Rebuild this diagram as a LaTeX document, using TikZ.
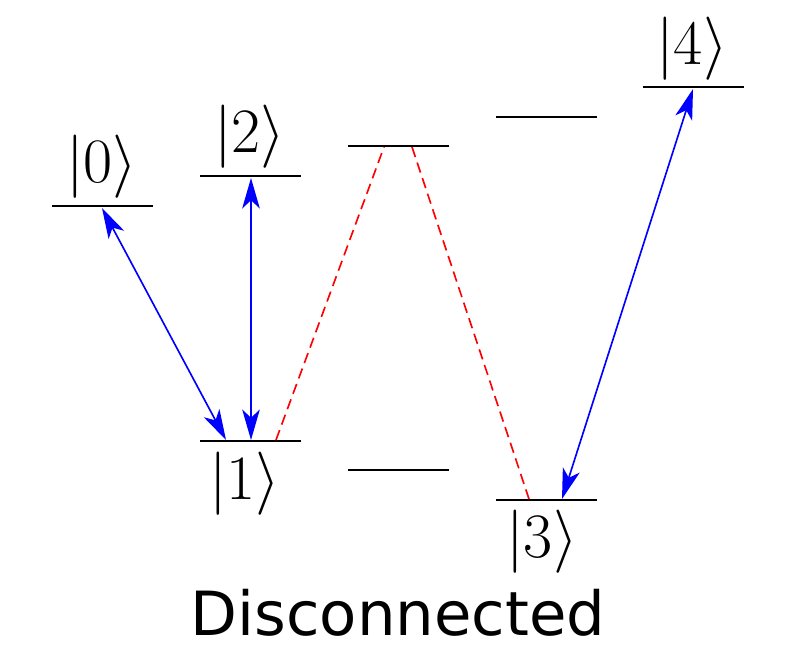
\RequirePackage{fix-cm}
\documentclass[tikz,border=0pt]{standalone}
\usepackage{fontspec}
\newfontfamily\labelfont{DejaVu Sans}
\usepackage{amsmath}
\usetikzlibrary{arrows.meta}
\tikzset{
    level/.style = {line width = 2.2pt},
    coupling/.style = {
        blue, line width = 1.4pt,
        {Stealth[length = 26pt, width = 15pt, inset = 7pt]}-{Stealth[length = 26pt, width = 15pt, inset = 7pt]}
    },
    leak/.style = {red, line width = 1.4pt, dash pattern = on 9pt off 5pt},
    ket/.style = {inner sep = 0pt, font = \fontsize{54}{54}\selectfont}
}
\begin{document}
\begin{tikzpicture}[x = 0.03cm, y = -0.03cm]
    \useasboundingbox (0, 0) rectangle (797, 650);

    % levels
    \draw[level] (52, 206) -- (153, 206);
    \draw[level] (200, 176) -- (301, 176);
    \draw[level] (348, 146) -- (449, 146);
    \draw[level] (496, 117) -- (597, 117);
    \draw[level] (643, 87) -- (744, 87);
    \draw[level] (200, 441) -- (301, 441);
    \draw[level] (348, 470) -- (449, 470);
    \draw[level] (496, 500) -- (597, 500);

    \node[ket] (k0) at (102, 167) {$|0\rangle$};
    \node[ket] (k2) at (250, 137) {$|2\rangle$};
    \node[ket] (k4) at (692, 49) {$|4\rangle$};
    \node[ket] (k1) at (245, 484) {$|1\rangle$};
    \node[ket] (k3) at (542, 542) {$|3\rangle$};

    \coordinate (a0) at (102, 208);
    \coordinate (a1) at (226, 440);
    \coordinate (b2) at (251, 178);
    \coordinate (b1) at (251, 440);
    \coordinate (c4) at (693, 89);
    \coordinate (c3) at (562, 499);
    \coordinate (r1) at (276, 440);
    \coordinate (rt) at (384, 147);
    \coordinate (st) at (412, 147);
    \coordinate (r3) at (529, 499);

    \draw[coupling] (a0) -- (a1);
    \draw[coupling] (b2) -- (b1);
    \draw[coupling] (c4) -- (c3);

    \draw[leak] (r1) -- (rt);
    \draw[leak] (st) -- (r3);

    \node[inner sep = 0pt, font = \labelfont\fontsize{52}{52}\selectfont] (title) at (398, 613) {Disconnected};
\end{tikzpicture}
\end{document}
